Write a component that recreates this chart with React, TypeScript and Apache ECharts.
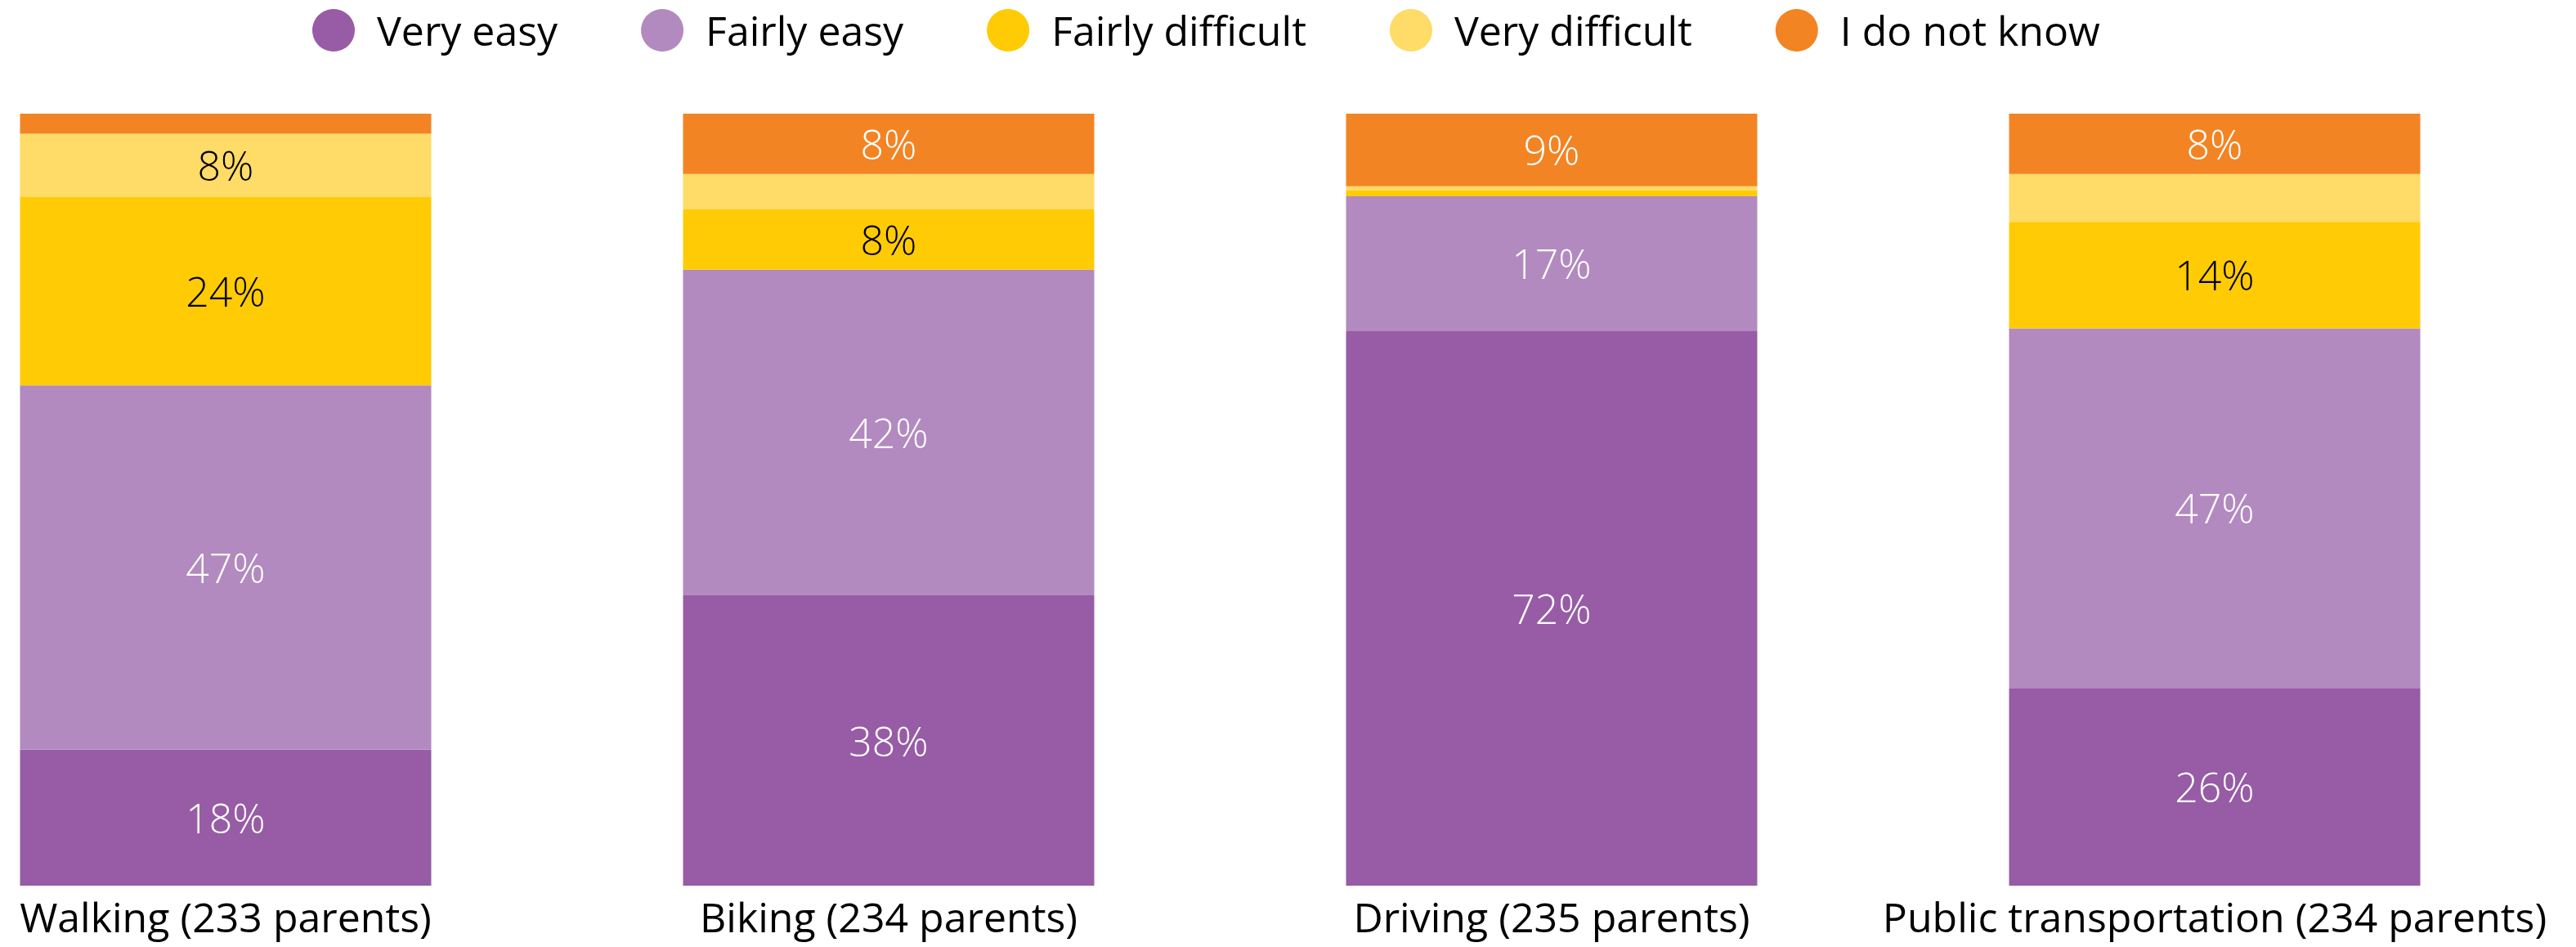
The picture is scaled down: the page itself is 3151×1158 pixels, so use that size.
import React, { useEffect, useRef } from "react";
import * as echarts from "echarts";

const categories = [
  "Walking (233 parents)",
  "Biking (234 parents)",
  "Driving (235 parents)",
  "Public transportation (234 parents)",
];
const seriesNames = ["Very easy", "Fairly easy", "Fairly difficult", "Very difficult", "I do not know"];
const veryEasy = [17.6, 37.6, 71.9, 25.6];
const fairlyEasy = [47.2, 42.2, 17.4, 46.6];
const fairlyDifficult = [24.4, 7.8, 0.8, 13.8];
const veryDifficult = [8.2, 4.6, 0.5, 6.2];
const doNotKnow = [2.6, 7.8, 9.4, 7.8];

const colors = ["#975CA5", "#B28ABF", "#FFCB05", "#FFDB67", "#F38424"];
const labelColors = ["#ffffff", "#ffffff", "#000000", "#000000", "#ffffff"];
const FONT = "'Open Sans', Lato, sans-serif";

export default function App() {
  const ref = useRef<HTMLDivElement>(null);
  useEffect(() => {
    document.body.style.margin = "0";
    const chart = echarts.init(ref.current!, null, { renderer: "svg" });
    const all = [veryEasy, fairlyEasy, fairlyDifficult, veryDifficult, doNotKnow];
    chart.setOption({
      animation: false,
      backgroundColor: "#ffffff",
      textStyle: { fontFamily: FONT },
      legend: {
        top: 6,
        left: 377,
        icon: "circle",
        itemWidth: 52,
        itemHeight: 52,
        itemGap: 102,
        textStyle: { fontSize: 50, color: "#000", fontFamily: FONT, padding: [0, 0, 0, 22] },
        data: seriesNames,
      },
      grid: { left: 276, right: 442, top: 139, bottom: 75, containLabel: false },
      xAxis: {
        type: "category",
        data: categories,
        boundaryGap: false,
        axisLine: { show: false },
        axisTick: { show: false },
        splitLine: { show: false },
        axisLabel: {
          fontSize: 50,
          lineHeight: 52,
          color: "#000",
          margin: 12,
          fontFamily: FONT,
          interval: 0,
        },
      },
      yAxis: { type: "value", min: 0, max: 100, show: false, splitLine: { show: false } },
      series: all.map((d, i) => ({
        name: seriesNames[i],
        type: "bar",
        stack: "total",
        barWidth: 503,
        clip: false,
        data: d,
        itemStyle: { color: colors[i] },
        label: {
          show: true,
          position: "inside",
          fontSize: 50,
          fontWeight: 300,
          fontFamily: FONT,
          color: labelColors[i],
          formatter: (p: any) => (p.value >= 7 ? Math.round(p.value) + "%" : ""),
        },
      })),
    });
    return () => chart.dispose();
  }, []);
  return <div ref={ref} style={{ width: 3151, height: 1158 }} />;
}
